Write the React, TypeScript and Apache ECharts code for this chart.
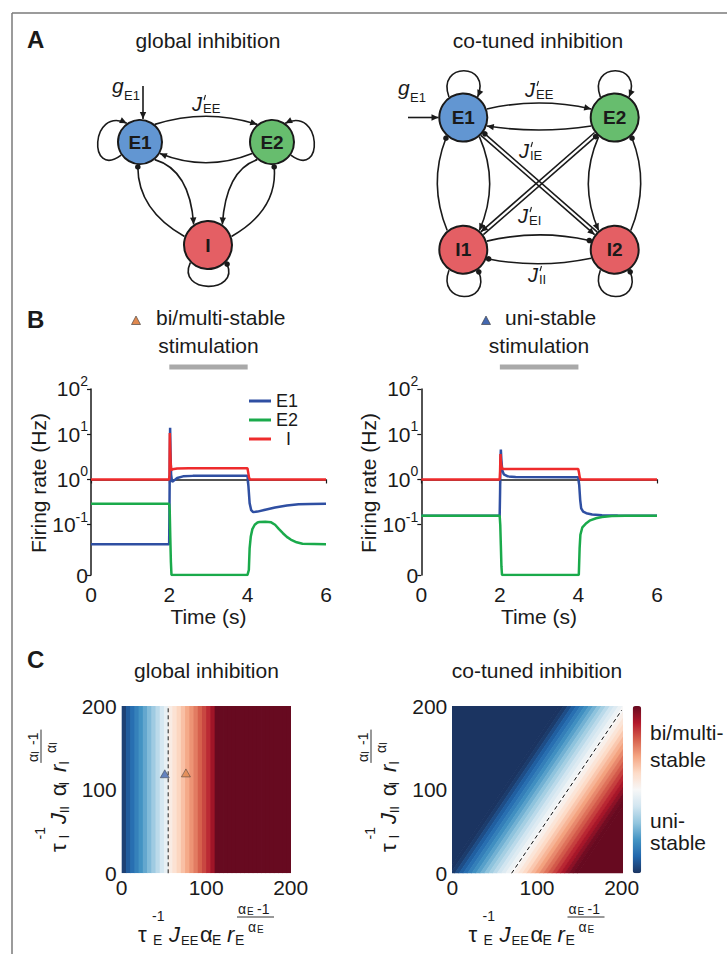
import React, { useEffect, useRef } from 'react';
import * as echarts from 'echarts';

const FONT = '"Liberation Sans", Arial, Helvetica, sans-serif';
const INK = '#1a1a1a';

// ---------------- Panel B data: [time (s), rate (Hz)] ----------------
const timeTicks = [0, 2, 4, 6];
const rateTickExps = [-1, 0, 1, 2];
const stimWindow = [2, 4];

const biE1 = [[0, 0.037], [1.995, 0.037], [2.005, 0.3], [2.012, 3], [2.02, 13.9], [2.03, 4], [2.045, 1.3], [2.07, 0.89], [2.1, 0.92], [2.2, 1.08], [2.35, 1.17], [2.6, 1.2], [3.0, 1.21], [3.995, 1.21], [4.02, 0.7], [4.05, 0.3], [4.09, 0.21], [4.14, 0.19], [4.25, 0.195], [4.45, 0.215], [4.7, 0.24], [5.0, 0.265], [5.3, 0.282], [5.6, 0.288], [6, 0.29]];
const biE2 = [[0, 0.29], [1.995, 0.29], [2.01, 0.2], [2.025, 0.05], [2.04, 0.015], [2.055, 0], [3.995, 0], [4.015, 0.009], [4.03, 0.01], [4.05, 0.03], [4.08, 0.055], [4.12, 0.08], [4.18, 0.1], [4.25, 0.112], [4.3, 0.115], [4.45, 0.117], [4.6, 0.113], [4.7, 0.1], [4.8, 0.08], [4.9, 0.065], [5.0, 0.054], [5.1, 0.047], [5.25, 0.041], [5.4, 0.038], [6, 0.037]];
const biI = [[0, 1], [1.995, 1], [2.005, 1.3], [2.012, 10.6], [2.022, 5], [2.035, 2.2], [2.05, 1.6], [2.08, 1.68], [2.2, 1.75], [2.5, 1.77], [3.995, 1.77], [4.015, 1.4], [4.035, 1.1], [4.06, 1.0], [6, 1]];

const uniE1 = [[0, 0.158], [1.995, 0.158], [2.005, 0.5], [2.015, 2.5], [2.025, 4.6], [2.04, 2.6], [2.06, 1.6], [2.1, 1.3], [2.2, 1.17], [2.4, 1.13], [3.995, 1.12], [4.02, 0.75], [4.045, 0.35], [4.07, 0.23], [4.12, 0.195], [4.2, 0.18], [4.35, 0.168], [4.6, 0.162], [5, 0.159], [6, 0.158]];
const uniE2 = [[0, 0.158], [1.995, 0.158], [2.01, 0.1], [2.025, 0.035], [2.04, 0.012], [2.055, 0], [3.995, 0], [4.01, 0.008], [4.03, 0.03], [4.05, 0.06], [4.1, 0.088], [4.2, 0.108], [4.3, 0.125], [4.45, 0.139], [4.6, 0.148], [4.85, 0.156], [5.2, 0.158], [6, 0.158]];
const uniI = [[0, 1], [1.995, 1], [2.005, 1.5], [2.015, 3.65], [2.03, 2.3], [2.05, 1.75], [2.1, 1.7], [3.995, 1.7], [4.015, 1.4], [4.035, 1.1], [4.06, 1], [6, 1]];

// ---------------- Panel C data ----------------
const heatTicks = [0, 100, 200];
// global inhibition: stability index per 5-unit column (x = 0-5, 5-10, ... 195-200)
const globalProfile = [-0.95, -0.84, -0.76, -0.68, -0.6, -0.52, -0.44, -0.36, -0.27, -0.18, -0.08,
  0.08, 0.15, 0.22, 0.3, 0.38, 0.45, 0.52, 0.6, 0.67, 0.75, 0.85,
  1, 1, 1, 1, 1, 1, 1, 1, 1, 1, 1, 1, 1, 1, 1, 1, 1, 1];
// co-tuned inhibition: stability index across the boundary, distance d = -80 ... 80 (step 5)
const cotunedProfile = [-1, -1, -0.97, -0.9, -0.83, -0.76, -0.69, -0.62, -0.55, -0.48, -0.41, -0.34, -0.27, -0.2, -0.13, -0.06,
  0, 0.06, 0.13, 0.2, 0.27, 0.34, 0.41, 0.48, 0.55, 0.62, 0.69, 0.76, 0.83, 0.9, 0.97, 1, 1];
const cotunedIntercept = 70; // boundary crosses y=0 at x=70
const cotunedSlope = 1.5;    // boundary slope
const globalBoundary = [[55, 0], [55, 200]];
const cotunedBoundary = [[70, 0], [200, 195]];
const uniPoint = [[51, 119]];
const biPoint = [[76, 120]];

const C_E1 = '#2f4fa2';
const C_E2 = '#1aaa4b';
const C_I = '#ee2b2c';
const RDBU = ['#1b3461', '#2166ac', '#4393c3', '#92c5de', '#d1e5f0', '#f7f7f7', '#fddbc7', '#f4a582', '#d6604d', '#b2182b', '#670a20'];

const YMIN = -2.11;
const toLog = (pts: number[][]) => pts.map(([t, v]) => [t, v > 0 ? Math.max(Math.log10(v), YMIN) : YMIN]);

// bands for the heatmaps: [from, to, value]
const globalBands = globalProfile.map((v, i) => [5 * i, 5 * i + 5, v]);
const cotunedBands = cotunedProfile.map((v, k) => [
  k === 0 ? -400 : -82.5 + 5 * k,
  k === cotunedProfile.length - 1 ? 400 : -77.5 + 5 * k,
  v,
]);

// ---------------- graphic helpers ----------------
function txt(text: string, x: number, baseline: number, size: number, o: any = {}) {
  const font = `${o.italic ? 'italic ' : ''}${o.bold ? 'bold ' : ''}${size}px ${FONT}`;
  return {
    type: 'text', silent: true,
    style: { text, x, y: baseline - 0.35 * size, font, fill: o.color || INK, textAlign: o.align || 'left', textVerticalAlign: 'middle' },
  };
}
type Node = number[];
function pt(c: Node, deg: number, extra = 0) {
  const a = (deg * Math.PI) / 180;
  return [c[0] + (c[2] + extra) * Math.cos(a), c[1] + (c[2] + extra) * Math.sin(a)];
}
function head(tip: number[], from: number[], kind: string) {
  if (kind === 'arrow') {
    const dx = tip[0] - from[0], dy = tip[1] - from[1];
    const L = Math.hypot(dx, dy); const ux = dx / L, uy = dy / L;
    const len = 7, hw = 3.2;
    const bx = tip[0] - ux * len, by = tip[1] - uy * len;
    return { type: 'polygon', silent: true, shape: { points: [[tip[0], tip[1]], [bx - uy * hw, by + ux * hw], [bx + uy * hw, by - ux * hw]] }, style: { fill: INK } };
  }
  return { type: 'circle', silent: true, shape: { cx: tip[0], cy: tip[1], r: 2.8 }, style: { fill: INK } };
}
const EDGE = { stroke: INK, lineWidth: 1.6, fill: 'none' };
function qc(a: number[], c: number[], b: number[], kind: string) {
  return [{ type: 'bezierCurve', silent: true, shape: { x1: a[0], y1: a[1], x2: b[0], y2: b[1], cpx1: c[0], cpy1: c[1] }, style: EDGE }, head(b, c, kind)];
}
function cc(a: number[], c1: number[], c2: number[], b: number[], kind: string) {
  return [{ type: 'bezierCurve', silent: true, shape: { x1: a[0], y1: a[1], x2: b[0], y2: b[1], cpx1: c1[0], cpy1: c1[1], cpx2: c2[0], cpy2: c2[1] }, style: EDGE }, head(b, c2, kind)];
}
function seg(a: number[], b: number[], kind: string) {
  return [{ type: 'line', silent: true, shape: { x1: a[0], y1: a[1], x2: b[0], y2: b[1] }, style: { stroke: INK, lineWidth: 1.6 } }, head(b, a, kind)];
}
function node(c: Node, color: string, label: string) {
  return [
    { type: 'circle', silent: true, shape: { cx: c[0], cy: c[1], r: c[2] }, style: { fill: color, stroke: INK, lineWidth: 2 } },
    { type: 'text', silent: true, style: { text: label, x: c[0], y: c[1], font: `bold 19px ${FONT}`, fill: INK, textAlign: 'center', textVerticalAlign: 'middle' } },
  ];
}
function jLabel(x: number, base: number, sub: string) {
  return [
    txt('J', x, base, 20, { italic: true }),
    { type: 'line', silent: true, shape: { x1: x + 13.5, y1: base - 16, x2: x + 12, y2: base - 11 }, style: { stroke: INK, lineWidth: 1.1 } },
    txt(sub, x + 11, base + 2, 13),
  ];
}
function gLabel(x: number, base: number) {
  return [txt('g', x, base, 21, { italic: true }), txt('E1', x + 12, base + 7, 13)];
}
const add = (p: number[], q: number[], s: number) => [p[0] + q[0] * s, p[1] + q[1] * s];

function diagonal(a: Node, b: Node) {
  const ang = (Math.atan2(b[1] - a[1], b[0] - a[0]) * 180) / Math.PI;
  const r = (ang * Math.PI) / 180;
  const perp = [-Math.sin(r), Math.cos(r)];
  return [
    ...seg(add(pt(a, ang, 1), perp, 1.9), add(pt(b, ang + 180, 1), perp, 1.9), 'arrow'),
    ...seg(add(pt(b, ang + 180, 1), perp, -1.9), add(pt(a, ang, 3), perp, -1.9), 'dot'),
  ];
}

// math label: tau^-1 J alpha r^{(alpha-1)/alpha}
function mathLabel(x: number, y: number, s: string, rotate: boolean) {
  const w = s === 'E' ? 1 : 0.9;
  const kids: any[] = [
    txt('τ', 0, 0, 22),
    txt('-1', 14 * w, -21, 14),
    txt(s, 15 * w, 3, 14),
    txt('J', 31 * w, 0, 22, { italic: true }),
    txt(s + s, 43 * w, 3, 13),
    txt('α', 62 * w, 0, 22),
    txt(s, 74 * w, 3, 14),
    txt('r', 89 * w, 0, 22, { italic: true }),
    txt(s, 97 * w, 3, 14),
    txt('α', 100 * w, -28, 14),
    txt(s, 109 * w, -27, 10),
    txt('-1', 119 * w, -28, 14),
    { type: 'line', silent: true, shape: { x1: 99 * w, y1: -25, x2: 136 * w, y2: -25 }, style: { stroke: '#333', lineWidth: 1 } },
    txt('α', 110 * w, -10, 14),
    txt(s, 119 * w, -9, 10),
  ];
  return { type: 'group', x, y, rotation: rotate ? Math.PI / 2 : 0, children: kids };
}

function buildGraphic() {
  const els: any[] = [];
  // frame
  els.push({ type: 'line', silent: true, shape: { x1: 12, y1: 13, x2: 727, y2: 13 }, style: { stroke: '#7a7a7a', lineWidth: 1.5 } });
  els.push({ type: 'line', silent: true, shape: { x1: 12, y1: 13, x2: 12, y2: 954 }, style: { stroke: '#7a7a7a', lineWidth: 1.5 } });
  // panel letters
  els.push(txt('A', 27, 48, 24, { bold: true }), txt('B', 27, 328, 24, { bold: true }), txt('C', 27, 668, 24, { bold: true }));
  // panel A titles
  els.push(txt('global inhibition', 208, 48, 21, { align: 'center' }), txt('co-tuned inhibition', 538, 48, 21, { align: 'center' }));

  // ---- left diagram ----
  const E1L = [140, 142, 22], E2L = [272, 142, 22], IL = [208, 245, 24];
  els.push(
    ...qc(pt(E1L, -50, 1), [206, 108], pt(E2L, -130, 1), 'arrow'),
    ...qc(pt(E2L, 150, 1), [206, 172], pt(E1L, 30, 1), 'arrow'),
    ...cc(pt(E1L, 145, 1), [88, 180], [90, 106], pt(E1L, -125, 1), 'arrow'),
    ...cc(pt(E2L, 35, 1), [324, 180], [322, 106], pt(E2L, -55, 1), 'arrow'),
    ...qc(pt(E1L, 50, 1), [190, 170], pt(IL, -125, 1), 'arrow'),
    ...qc(pt(IL, -160, 1), [138, 210], pt(E1L, 95, 3), 'dot'),
    ...qc(pt(E2L, 130, 1), [226, 170], pt(IL, -55, 1), 'arrow'),
    ...qc(pt(IL, -20, 1), [278, 210], pt(E2L, 85, 3), 'dot'),
    ...cc(pt(IL, 135, 1), [176, 294], [240, 294], pt(IL, 45, 3), 'dot'),
    ...seg([143, 86], [143, 119], 'arrow'),
  );
  els.push(...node(E1L, '#6296d2', 'E1'), ...node(E2L, '#67bd6e', 'E2'), ...node(IL, '#e45f64', 'I'));
  els.push(...gLabel(112, 93), ...jLabel(192, 111, 'EE'));

  // ---- right diagram ----
  const E1R = [463.3, 117.5, 24], E2R = [614.7, 117.5, 24], I1R = [463.3, 249.7, 24], I2R = [614.7, 249.7, 24];
  els.push(
    ...cc(pt(E1R, -125, 1), [436, 62], [492, 62], pt(E1R, -55, 1), 'arrow'),
    ...cc(pt(E2R, -125, 1), [587.4, 62], [643.4, 62], pt(E2R, -55, 1), 'arrow'),
    ...qc(pt(E1R, -20, 1), [539, 97], pt(E2R, -160, 1), 'arrow'),
    ...qc(pt(E2R, 160, 1), [539, 134], pt(E1R, 20, 1), 'arrow'),
    ...qc(pt(I1R, -130, 1), [428, 183.6], pt(E1R, 130, 3), 'dot'),
    ...qc(pt(E1R, 50, 1), [500, 183.6], pt(I1R, -50, 1), 'arrow'),
    ...qc(pt(E2R, 130, 1), [578, 183.6], pt(I2R, -130, 1), 'arrow'),
    ...qc(pt(I2R, -50, 1), [650, 183.6], pt(E2R, 50, 3), 'dot'),
    ...qc(pt(I1R, -20, 1), [539, 229], pt(I2R, -160, 3), 'dot'),
    ...qc(pt(I2R, 160, 1), [539, 269], pt(I1R, 20, 3), 'dot'),
    ...cc(pt(I1R, 125, 1), [436, 305], [492, 305], pt(I1R, 55, 3), 'dot'),
    ...cc(pt(I2R, 125, 1), [587.4, 305], [643.4, 305], pt(I2R, 55, 3), 'dot'),
    ...diagonal(E1R, I2R),
    ...diagonal(E2R, I1R),
    ...seg([408, 117.5], [438.5, 117.5], 'arrow'),
  );
  els.push(...node(E1R, '#6296d2', 'E1'), ...node(E2R, '#67bd6e', 'E2'), ...node(I1R, '#e45f64', 'I1'), ...node(I2R, '#e45f64', 'I2'));
  els.push(...gLabel(398, 95), ...jLabel(525, 97, 'EE'), ...jLabel(519, 158, 'IE'), ...jLabel(518, 223, 'EI'), ...jLabel(528, 282, 'II'));

  // ---- panel B titles ----
  els.push({ type: 'polygon', silent: true, shape: { points: [[136, 316], [140.5, 324.5], [131.5, 324.5]] }, style: { fill: '#e0884f', stroke: '#333', lineWidth: 0.6 } });
  els.push(txt('bi/multi-stable', 156, 325, 21), txt('stimulation', 208.5, 353, 21, { align: 'center' }));
  els.push({ type: 'polygon', silent: true, shape: { points: [[486, 316], [490.5, 324.5], [481.5, 324.5]] }, style: { fill: '#4468b0', stroke: '#333', lineWidth: 0.6 } });
  els.push(txt('uni-stable', 505, 325, 21), txt('stimulation', 539, 353, 21, { align: 'center' }));
  // axis names B
  for (const cx of [38, 368]) {
    els.push({ type: 'text', silent: true, x: cx, y: 483, rotation: Math.PI / 2, style: { text: 'Firing rate (Hz)', x: 0, y: 0, font: `21px ${FONT}`, fill: INK, textAlign: 'center', textVerticalAlign: 'middle' } });
  }
  els.push(txt('Time (s)', 208.5, 624, 21, { align: 'center' }), txt('Time (s)', 539, 624, 21, { align: 'center' }));

  // ---- panel C ----
  els.push(txt('global inhibition', 206.5, 678, 21, { align: 'center' }), txt('co-tuned inhibition', 537, 678, 21, { align: 'center' }));
  els.push(txt('bi/multi-', 650, 740, 21), txt('stable', 650, 767, 21), txt('uni-', 650, 828, 21), txt('stable', 650, 850, 21));
  els.push(mathLabel(138, 942, 'E', false), mathLabel(468.5, 942, 'E', false));
  els.push(mathLabel(66, 852, 'I', true), mathLabel(396, 852, 'I', true));
  return els;
}

export default function App() {
  const ref = useRef<HTMLDivElement>(null);
  useEffect(() => {
    if (!ref.current) return;
    const chart = echarts.init(ref.current, undefined, { renderer: 'svg' });
    const yVals = [YMIN, ...rateTickExps];
    const axisLine = { show: true, lineStyle: { color: INK, width: 1.5 } };
    const bx = (gi: number) => ({
      gridIndex: gi, type: 'value', min: timeTicks[0], max: timeTicks[timeTicks.length - 1], interval: 2,
      axisLine, axisTick: { show: true, length: 4, lineStyle: { color: INK, width: 1.2 } },
      axisLabel: { fontSize: 21, color: INK, margin: 9, fontFamily: FONT }, splitLine: { show: false },
    });
    const by = (gi: number) => ({
      gridIndex: gi, type: 'value', min: YMIN, max: 2,
      axisLine, axisTick: { show: true, length: 4, customValues: yVals, lineStyle: { color: INK, width: 1.2 } },
      axisLabel: {
        customValues: yVals, margin: 3, showMinLabel: true, showMaxLabel: true,
        formatter: (v: number) => (v < -2 ? '{b|0}' : `{b|10}{s|${Math.round(v)}}`),
        rich: {
          b: { fontSize: 21, lineHeight: 30, color: INK, fontFamily: FONT },
          s: { fontSize: 14, lineHeight: 14, verticalAlign: 'top', color: INK, fontFamily: FONT },
        },
      },
      splitLine: { show: false },
    });
    const hidden = (gi: number, min: number, max: number) => ({ gridIndex: gi, type: 'value', min, max, show: false });
    const hv = (gi: number, pos: string) => ({
      gridIndex: gi, type: 'value', position: pos, min: heatTicks[0], max: heatTicks[2], interval: 100,
      axisLine: { show: false }, axisTick: { show: false }, splitLine: { show: false },
      axisLabel: { fontSize: 21, color: INK, margin: pos === 'bottom' ? 4 : 5, fontFamily: FONT },
    });

    const lineS = (name: string, xi: number, data: number[][], color: string) => ({
      type: 'line', name, xAxisIndex: xi, yAxisIndex: xi, data: toLog(data), symbol: 'none', showSymbol: false,
      lineStyle: { width: 2.5, color }, itemStyle: { color }, emphasis: { disabled: true },
    });

    const globalRender = (_p: any, api: any) => {
      const a = api.coord([api.value(0), 200]);
      const b = api.coord([api.value(1), 0]);
      return { type: 'rect', shape: { x: a[0], y: a[1], width: b[0] - a[0] + 0.8, height: b[1] - a[1] }, style: { fill: api.visual('color') } };
    };
    const cotunedRender = (_p: any, api: any) => {
      const d0 = api.value(0), d1 = api.value(1) + 0.8;
      const pts = [
        [cotunedIntercept + d0 - 10 / cotunedSlope, -10],
        [cotunedIntercept + d1 - 10 / cotunedSlope, -10],
        [cotunedIntercept + d1 + 210 / cotunedSlope, 210],
        [cotunedIntercept + d0 + 210 / cotunedSlope, 210],
      ].map((p) => api.coord(p));
      return { type: 'polygon', shape: { points: pts }, style: { fill: api.visual('color') } };
    };

    const option: any = {
      animation: false,
      backgroundColor: '#ffffff',
      textStyle: { fontFamily: FONT },
      grid: [
        { left: 91, top: 388.9, width: 235, height: 186.1 },
        { left: 421.3, top: 388.9, width: 235.7, height: 186.1 },
        { left: 91, top: 364, width: 235, height: 6 },
        { left: 421.3, top: 364, width: 235.7, height: 6 },
        { left: 121.7, top: 706, width: 169, height: 167.3 },
        { left: 452.3, top: 706, width: 169.4, height: 167.3 },
      ],
      xAxis: [bx(0), bx(1), hidden(2, 0, 6), hidden(3, 0, 6), hv(4, 'bottom'), hv(5, 'bottom')],
      yAxis: [by(0), by(1), hidden(2, 0, 1), hidden(3, 0, 1), hv(4, 'left'), hv(5, 'left')],
      legend: {
        data: ['E1', 'E2', 'I'], orient: 'vertical', left: 249, top: 392, padding: 0, itemGap: 1,
        itemWidth: 22, itemHeight: 3, icon: 'rect', selectedMode: false,
        textStyle: { fontSize: 18, color: INK, lineHeight: 17, fontFamily: FONT },
        formatter: (n: string) => (n === 'I' ? '  I' : n),
      },
      visualMap: {
        type: 'continuous', seriesIndex: [8, 9], dimension: 2, min: -1, max: 1, calculable: false, show: true,
        left: 632.7, top: 706, itemWidth: 8.5, itemHeight: 167.3, padding: 0, text: null, showLabel: false,
        inRange: { color: RDBU },
      },
      series: [
        lineS('E1', 0, biE1, C_E1), lineS('E2', 0, biE2, C_E2), lineS('I', 0, biI, C_I),
        lineS('E1', 1, uniE1, C_E1), lineS('E2', 1, uniE2, C_E2), lineS('I', 1, uniI, C_I),
        { type: 'line', xAxisIndex: 2, yAxisIndex: 2, data: stimWindow.map((t) => [t, 0.5]), symbol: 'none', lineStyle: { width: 5, color: '#a9a9a9' }, silent: true },
        { type: 'line', xAxisIndex: 3, yAxisIndex: 3, data: stimWindow.map((t) => [t, 0.5]), symbol: 'none', lineStyle: { width: 5, color: '#a9a9a9' }, silent: true },
        { type: 'custom', xAxisIndex: 4, yAxisIndex: 4, data: globalBands, encode: { x: [0, 1] }, renderItem: globalRender, clip: true, silent: true },
        { type: 'custom', xAxisIndex: 5, yAxisIndex: 5, data: cotunedBands, encode: { x: [0, 1] }, renderItem: cotunedRender, clip: true, silent: true },
        { type: 'line', xAxisIndex: 4, yAxisIndex: 4, data: globalBoundary, symbol: 'none', z: 5, silent: true, lineStyle: { type: [4, 3], width: 1, color: '#222' } },
        { type: 'line', xAxisIndex: 5, yAxisIndex: 5, data: cotunedBoundary, symbol: 'none', z: 5, silent: true, lineStyle: { type: [4, 3], width: 1, color: '#111' } },
        { type: 'scatter', xAxisIndex: 4, yAxisIndex: 4, data: uniPoint, symbol: 'triangle', symbolSize: [9, 8], z: 6, silent: true, itemStyle: { color: '#4468b0', borderColor: '#333', borderWidth: 0.6 } },
        { type: 'scatter', xAxisIndex: 4, yAxisIndex: 4, data: biPoint, symbol: 'triangle', symbolSize: [9, 8], z: 6, silent: true, itemStyle: { color: '#e0884f', borderColor: '#333', borderWidth: 0.6 } },
      ],
      graphic: { elements: buildGraphic() },
    };
    chart.setOption(option);
    return () => chart.dispose();
  }, []);
  return <div ref={ref} style={{ position: 'absolute', left: 0, top: 0, width: 727, height: 954, background: '#fff' }} />;
}
